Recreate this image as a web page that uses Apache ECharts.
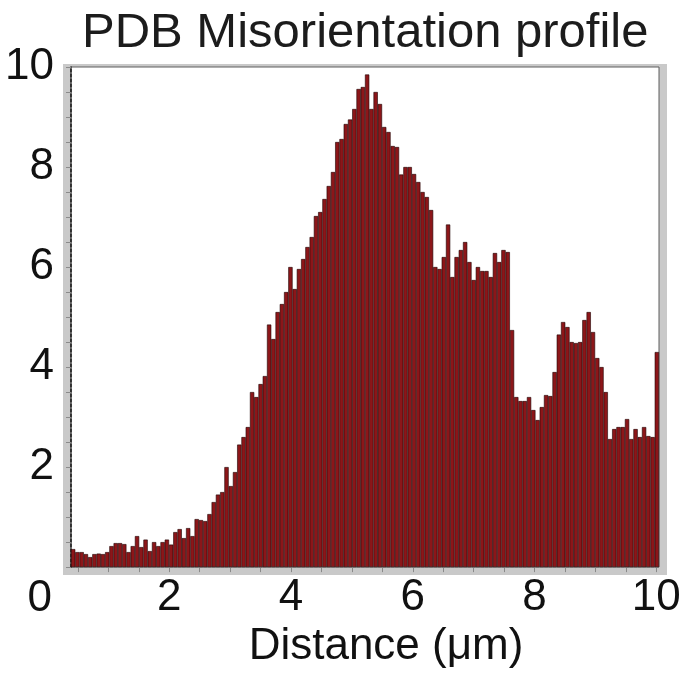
<!DOCTYPE html>
<html>
<head>
<meta charset="utf-8">
<script src="https://cdn.jsdelivr.net/npm/echarts@6/dist/echarts.min.js"></script>
<style>
  html, body { margin: 0; padding: 0; background: #fff; }
  #chart { width: 693px; height: 674px; }
</style>
</head>
<body>
<div id="chart"></div>
<script>
// Distance along the profile (µm), one entry per bar
const distances = [
  0.42,0.49,0.56,0.63,0.70,0.77,0.84,0.91,0.98,1.05,
  1.12,1.19,1.26,1.33,1.40,1.47,1.54,1.61,1.68,1.75,
  1.82,1.89,1.96,2.03,2.10,2.17,2.24,2.31,2.38,2.45,
  2.52,2.59,2.66,2.73,2.80,2.87,2.94,3.01,3.08,3.15,
  3.22,3.29,3.36,3.43,3.50,3.57,3.64,3.71,3.78,3.85,
  3.92,3.99,4.06,4.13,4.20,4.27,4.34,4.41,4.48,4.55,
  4.62,4.69,4.76,4.83,4.90,4.97,5.04,5.11,5.18,5.25,
  5.32,5.39,5.46,5.53,5.60,5.67,5.74,5.81,5.88,5.95,
  6.02,6.09,6.16,6.23,6.30,6.37,6.44,6.51,6.58,6.65,
  6.72,6.79,6.86,6.93,7.00,7.07,7.14,7.21,7.28,7.35,
  7.42,7.49,7.56,7.63,7.70,7.77,7.84,7.91,7.98,8.05,
  8.12,8.19,8.26,8.33,8.40,8.47,8.54,8.61,8.68,8.75,
  8.82,8.89,8.96,9.03,9.10,9.17,9.24,9.31,9.38,9.45,
  9.52,9.59,9.66,9.73,9.80,9.87,9.94,10.01
];

// Misorientation values
const misorientation = [
  0.36,0.30,0.30,0.26,0.20,0.26,0.27,0.26,0.30,0.42,
  0.48,0.48,0.46,0.30,0.42,0.62,0.40,0.55,0.32,0.50,
  0.42,0.50,0.55,0.45,0.70,0.76,0.58,0.78,0.62,0.96,
  0.94,0.92,1.06,1.30,1.45,1.50,2.00,1.62,1.90,2.45,
  2.60,2.80,3.50,3.40,3.66,3.82,4.85,4.56,5.10,5.26,
  5.50,6.00,5.56,5.96,6.16,6.40,6.60,7.02,7.10,7.36,
  7.62,7.90,8.50,8.56,8.86,8.95,9.16,9.56,9.60,9.85,
  9.16,9.50,9.26,8.80,8.70,8.42,8.40,7.85,8.00,8.00,
  7.86,7.70,7.50,7.40,7.14,6.00,5.96,6.20,6.85,5.80,
  6.20,6.34,6.50,6.10,5.74,6.00,5.92,5.92,5.80,6.28,
  6.10,6.34,6.30,4.74,3.40,3.32,3.32,3.40,3.14,2.94,
  3.20,3.44,3.42,3.90,4.65,4.90,4.80,4.50,4.48,4.50,
  4.94,5.10,4.70,4.18,4.00,3.50,2.56,2.76,2.80,2.80,
  2.96,2.56,2.76,2.60,2.80,2.62,2.60,4.30
];

// Tick labels
const xTickLabels = [2, 4, 6, 8, 10];
const xTickMarks = [0.5,1,1.5,2,2.5,3,3.5,4,4.5,5,5.5,6,6.5,7,7.5,8,8.5,9,9.5,10];
const yMin = 0, yMax = 10, yStep = 2;
const xMin = 0.385, xMax = 10.045;

const titleText = 'PDB Misorientation profile';
const xName = 'Distance (μm)';

const FONT = '"Liberation Sans", Arial, Helvetica, sans-serif';

const chart = echarts.init(document.getElementById('chart'), null, { renderer: 'canvas' });

const barData = distances.map((d, i) => [d, misorientation[i]]);

chart.setOption({
  animation: false,
  backgroundColor: '#ffffff',
  title: {
    text: titleText,
    left: 82,
    top: 9,
    padding: 0,
    textStyle: { fontFamily: FONT, fontSize: 49, fontWeight: 'normal', color: '#1c1c1c' }
  },
  grid: [
    { // outer grey frame
      left: 63, right: 26, top: 64, bottom: 99,
      show: true, backgroundColor: '#c9c9c9', borderWidth: 0
    },
    { // inner plot area
      left: 71, right: 34, top: 67, bottom: 106,
      show: true, backgroundColor: '#ffffff', borderColor: '#5e5e5e', borderWidth: 1
    }
  ],
  xAxis: [
    { gridIndex: 0, type: 'value', show: false, min: 0, max: 1 },
    {
      gridIndex: 1,
      type: 'value',
      min: xMin,
      max: xMax,
      name: xName,
      nameLocation: 'middle',
      nameGap: 50,
      nameTextStyle: { fontFamily: FONT, fontSize: 44, color: '#111', padding: [0, 0, 0, 42] },
      axisLine: { show: false },
      axisTick: {
        show: true, customValues: xTickMarks, length: 5, inside: false,
        lineStyle: { color: '#8a8a8a', width: 1 }
      },
      axisLabel: {
        customValues: xTickLabels,
        margin: 9,
        fontFamily: FONT, fontSize: 44, color: '#111'
      },
      splitLine: { show: false }
    }
  ],
  yAxis: [
    { gridIndex: 0, type: 'value', show: false, min: 0, max: 1 },
    {
      gridIndex: 1,
      type: 'value',
      min: yMin,
      max: yMax,
      interval: yStep,
      axisLine: { show: true, lineStyle: { color: '#111', width: 1.5, type: [3, 2] } },
      axisTick: { show: true, length: 5, lineStyle: { color: '#8a8a8a', width: 1 } },
      minorTick: { show: true, splitNumber: 4, length: 5, lineStyle: { color: '#8a8a8a', width: 1 } },
      axisLabel: {
        margin: 17,
        fontFamily: FONT, fontSize: 44, color: '#111',
        formatter: function (v) { return v === 0 ? '{zero|0}' : String(v); },
        rich: {
          zero: { fontFamily: FONT, fontSize: 44, color: '#111', padding: [64, 2, 0, 0] }
        }
      },
      splitLine: { show: false }
    }
  ],
  series: [
    {
      type: 'bar',
      xAxisIndex: 1,
      yAxisIndex: 1,
      data: barData,
      barWidth: 4.3,
      itemStyle: { color: '#8c1619', borderColor: '#1f0304', borderWidth: 0.6 },
      emphasis: { disabled: true }
    }
  ]
});
</script>
</body>
</html>
